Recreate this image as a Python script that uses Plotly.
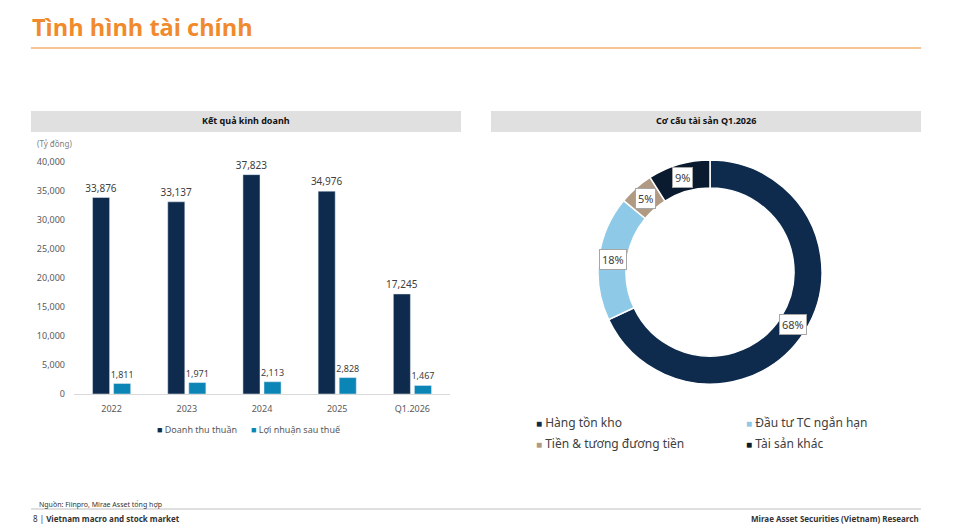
import math
import plotly.graph_objects as go

# ---- data ----
categories = ["2022", "2023", "2024", "2025", "Q1.2026"]
revenue = [33876, 33137, 37823, 34976, 17245]
profit = [1811, 1971, 2113, 2828, 1467]
series_names = ["Doanh thu thuần", "Lợi nhuận sau thuế"]
y_ticks = [0, 5000, 10000, 15000, 20000, 25000, 30000, 35000, 40000]

asset_labels = ["Hàng tồn kho", "Đầu tư TC ngắn hạn", "Tiền & tương đương tiền", "Tài sản khác"]
asset_shares = [68, 18, 5, 9]

W, H = 953, 531
FONT = "Noto Sans"
NAVY = "#0e2b4e"
TEAL = "#0a85b5"
bar_colors = [NAVY, TEAL]
label_sizes = [10, 9]
pie_colors = ["#0e2b4e", "#8ecae8", "#b09a83", "#0a1a2f"]

def px(x):
    return x / W

def py(y):
    return 1 - y / H

fig = go.Figure()

for name, vals, col, ls in zip(series_names, [revenue, profit], bar_colors, label_sizes):
    fig.add_trace(go.Bar(
        x=categories, y=vals, name=name, marker_color=col,
        text=[f"{v:,}" for v in vals], textposition="outside", constraintext="none",
        textfont=dict(size=ls, color="#404040"), cliponaxis=False, showlegend=False,
    ))

# donut
pcx, pcy, R = 710, 272, 112
fig.add_trace(go.Pie(
    labels=asset_labels, values=asset_shares, hole=0.75, sort=False,
    direction="clockwise", rotation=0, textinfo="none", showlegend=False,
    marker=dict(colors=pie_colors, line=dict(color="white", width=1.5)),
    domain=dict(x=[px(pcx - R), px(pcx + R)], y=[py(pcy + R), py(pcy - R)]),
))

# boxed percentage labels placed at mid-ring of each slice
total = sum(asset_shares)
cum = 0
annotations = []
rmid = R * (1 + 0.75) / 2
for lab, v in zip(asset_labels, asset_shares):
    mid = (cum + v / 2) / total * 2 * math.pi
    cum += v
    xx = pcx + rmid * math.sin(mid)
    yy = pcy - rmid * math.cos(mid)
    annotations.append(dict(
        x=px(xx), y=py(yy), xref="paper", yref="paper", showarrow=False,
        xanchor="center", yanchor="middle",
        text=f"{round(v / total * 100)}%", font=dict(size=11, color="#404040", family=FONT),
        bgcolor="white", bordercolor="#a6a6a6", borderwidth=1, borderpad=2,
    ))

# legends drawn as text
bar_leg_x = [155, 249]
for name, col, lx in zip(series_names, bar_colors, bar_leg_x):
    annotations.append(dict(
        x=px(lx), y=py(429), xref="paper", yref="paper", xanchor="left", yanchor="middle",
        showarrow=False, font=dict(size=9, color="#595959", family=FONT),
        text=f"<span style='color:{col}'>■</span> {name}",
    ))
pie_leg_pos = [(534, 422), (744, 422), (534, 443), (744, 443)]
for name, col, (lx, ly) in zip(asset_labels, pie_colors, pie_leg_pos):
    annotations.append(dict(
        x=px(lx), y=py(ly), xref="paper", yref="paper", xanchor="left", yanchor="middle",
        showarrow=False, font=dict(size=12, color="#404040", family=FONT),
        text=f"<span style='color:{col};font-size:10px'>■</span> {name}",
    ))

# page texts
def txt(x, y, text, size, color, xanchor="left", family=FONT):
    return dict(x=px(x), y=py(y), xref="paper", yref="paper", xanchor=xanchor, yanchor="middle",
                text=text, showarrow=False, font=dict(size=size, color=color, family=family))

annotations += [
    txt(30, 27, "<b>Tình hình tài chính</b>", 23.5, "#f08a2c", family="Open Sans"),
    txt(246, 121, "<b>Kết quả kinh doanh</b>", 9, "#111111", xanchor="center"),
    txt(706, 121, "<b>Cơ cấu tài sản Q1.2026</b>", 9, "#111111", xanchor="center"),
    txt(35, 144, "(Tỷ đồng)", 8, "#7f7f7f"),
    txt(37, 504, "Nguồn: Fiinpro, Mirae Asset tổng hợp", 7, "#333333"),
    txt(31, 518, "8 | <b>Vietnam macro and stock market</b>", 8, "#333333"),
    txt(921, 518, "<b>Mirae Asset Securities (Vietnam) Research</b>", 8, "#333333", xanchor="right"),
]

shapes = [
    dict(type="line", xref="paper", yref="paper", x0=px(31), x1=px(921), y0=py(48), y1=py(48),
         line=dict(color="#f08a2c", width=1.2)),
    dict(type="rect", xref="paper", yref="paper", x0=px(31), x1=px(461), y0=py(132), y1=py(111),
         fillcolor="#e0e0e0", line=dict(width=0), layer="below"),
    dict(type="rect", xref="paper", yref="paper", x0=px(491), x1=px(921), y0=py(132), y1=py(111),
         fillcolor="#e0e0e0", line=dict(width=0), layer="below"),
    dict(type="line", xref="paper", yref="paper", x0=px(31), x1=px(921), y0=py(509), y1=py(509),
         line=dict(color="#bfbfbf", width=1)),
]

fig.update_layout(
    width=W, height=H, margin=dict(l=0, r=0, t=0, b=0, autoexpand=False),
    paper_bgcolor="white", plot_bgcolor="white", showlegend=False,
    font=dict(family=FONT, size=9, color="#595959"),
    barmode="group", bargap=0.44, bargroupgap=0.19,
    xaxis=dict(domain=[px(74), px(450)], showline=True, linecolor="#d9d9d9", linewidth=1,
               ticks="", showgrid=False, tickfont=dict(size=9, color="#595959"), ticklabelstandoff=6),
    yaxis=dict(domain=[py(394), py(162)], range=[0, 40000], tickvals=y_ticks,
               tickformat=",d", showgrid=False, zeroline=False, showline=False,
               tickfont=dict(size=9, color="#595959"), ticklabelstandoff=8),
    annotations=annotations, shapes=shapes,
)

fig.write_html("out.html")
